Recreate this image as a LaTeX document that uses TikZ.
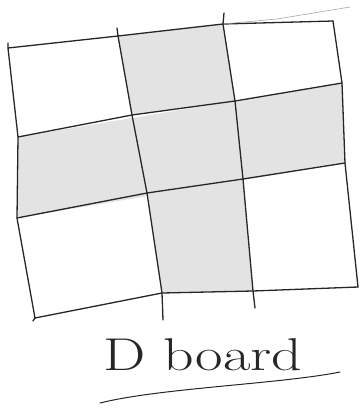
\documentclass[tikz,border=0pt]{standalone}
\begin{document}
\begin{tikzpicture}[x=1pt,y=-1pt,
    gridline/.style={line width=1.3pt, line cap=round, line join=round, black!85},
    cellshade/.style={fill=gray!22}]
    \useasboundingbox (0,0) rectangle (360,410);
    % Corners of the cells
    \coordinate (a0) at (8,48);   \coordinate (a1) at (118,36);  \coordinate (a2) at (223,24);  \coordinate (a3) at (333,21);
    \coordinate (b0) at (18,137); \coordinate (b1) at (132,115); \coordinate (b2) at (235,101); \coordinate (b3) at (342,83);
    \coordinate (c0) at (17,218); \coordinate (c1) at (147,193); \coordinate (c2) at (243,179); \coordinate (c3) at (345,163);
    \coordinate (d0) at (35,318); \coordinate (d1) at (162,293); \coordinate (d2) at (253,291); \coordinate (d3) at (358,287);
    % Line ends
    \coordinate (top0) at (8,43);   \coordinate (bot0) at (33,321);
    \coordinate (top1) at (117,28); \coordinate (bot1) at (163,320);
    \coordinate (top2) at (224,13); \coordinate (bot2) at (255,308);
    \coordinate (topend) at (350,7);
    % Shaded cross
    \fill[cellshade] (a1) -- (a2) -- (b2) -- (b1) -- cycle;
    \fill[cellshade] (b0) -- (b3) -- (c3) -- (c0) -- cycle;
    \fill[cellshade] (c1) -- (c2) -- (d2) -- (d1) -- cycle;
    % Rows
    \draw[gridline] (a0) -- (a1) -- (a2) -- (a3);
    \draw[gray!70, line width=0.6pt] (a2) -- (277,19) -- (topend);
    \draw[gridline] (b0) -- (b1) -- (b2) -- (b3);
    \draw[gridline] (c0) -- (c1) -- (c2) -- (c3);
    \draw[gridline] (d0) -- (d1) -- (d2) -- (d3);
    % Columns
    \draw[gridline] (top0) -- (a0) -- (b0) -- (c0) -- (d0) -- (bot0);
    \draw[gridline] (top1) -- (a1) -- (b1) -- (c1) -- (d1) -- (bot1);
    \draw[gridline] (top2) -- (a2) -- (b2) -- (c2) -- (d2) -- (bot2);
    \draw[gridline] (a3) -- (b3) -- (c3) -- (d3);
    % Label
    \node[font=\fontsize{46}{52}\selectfont, xscale=1.3, black!85] (title) at (203,355) {D board};
    \coordinate (ulstart) at (100,403);
    \coordinate (ulend) at (340,372);
    \draw[gridline, line width=1pt] (ulstart) .. controls (160,388) and (280,384) .. (ulend);
\end{tikzpicture}
\end{document}
